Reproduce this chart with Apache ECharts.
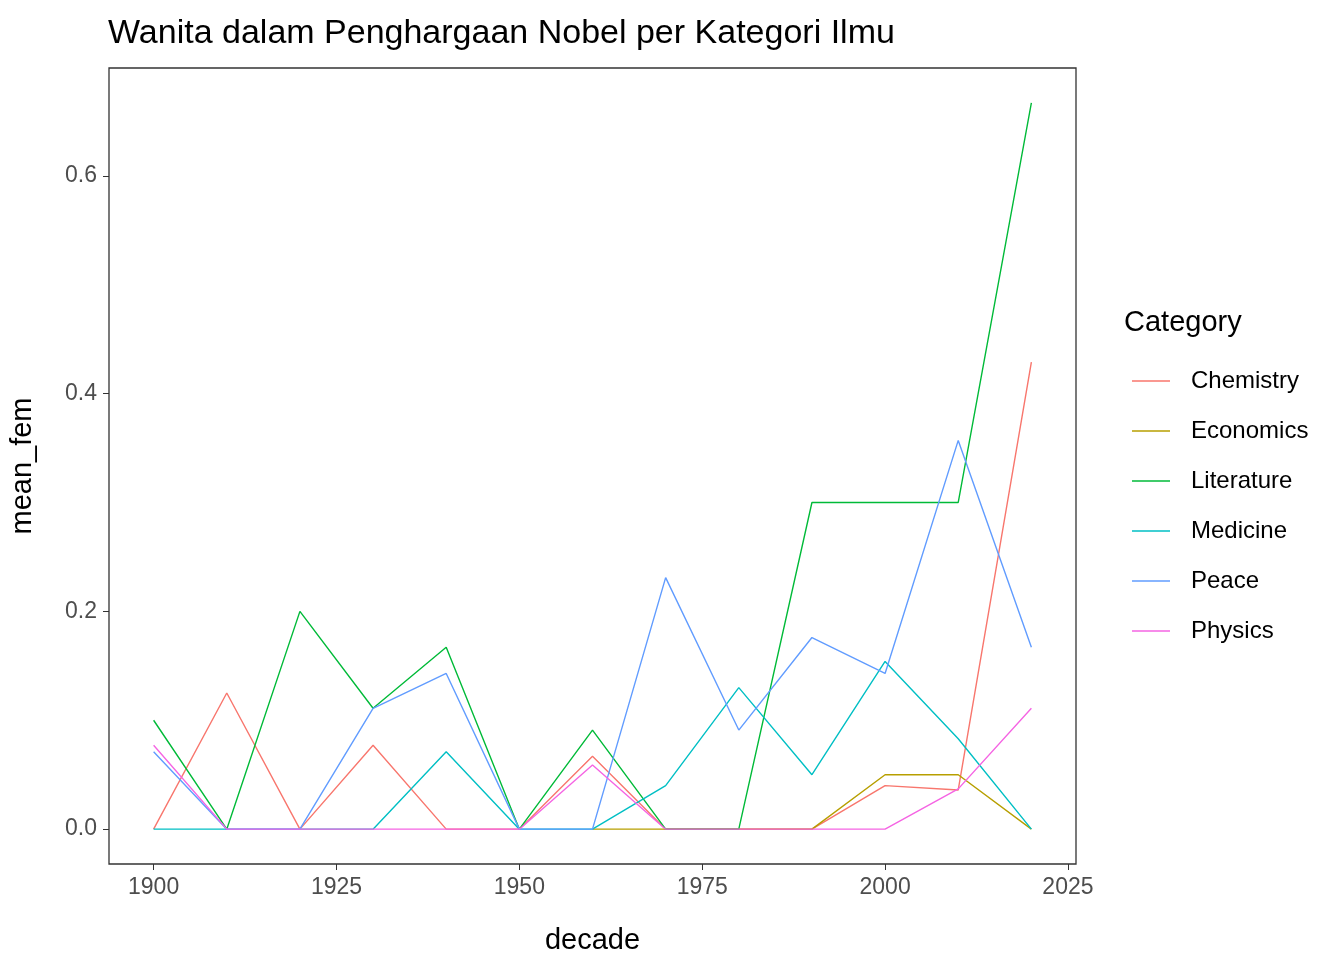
<!DOCTYPE html>
<html><head><meta charset="utf-8">
<script src="https://cdn.jsdelivr.net/npm/echarts@6/dist/echarts.min.js"></script>
<style>html,body{margin:0;padding:0;background:#fff}#c{width:1344px;height:960px}</style>
</head><body><div id="c"></div>
<script>
const decades = [1900,1910,1920,1930,1940,1950,1960,1970,1980,1990,2000,2010,2020];
const chemistry  = [0,0.125,0,0.077,0,0,0.067,0,0,0,0.04,0.036,0.429];
const economics  = [null,null,null,null,null,null,0,0,0,0,0.05,0.05,0];
const literature = [0.1,0,0.2,0.111,0.167,0,0.091,0,0,0.3,0.3,0.3,0.667];
const medicine   = [0,0,0,0,0.071,0,0,0.04,0.13,0.05,0.154,0.083,0];
const peace      = [0.071,0,0,0.111,0.143,0,0,0.231,0.091,0.176,0.143,0.357,0.167];
const physics    = [0.077,0,0,0,0,0,0.059,0,0,0,0,0.037,0.111];
const names = ['Chemistry','Economics','Literature','Medicine','Peace','Physics'];
const colors = ['#F8766D','#B79F00','#00BA38','#00BFC4','#619CFF','#F564E3'];
const vals = [chemistry,economics,literature,medicine,peace,physics];
const xTicks = [1900,1925,1950,1975,2000,2025];
const yTicks = [0,0.2,0.4,0.6];
const ch = echarts.init(document.getElementById('c'));
ch.setOption({
  animation:false,
  title:{text:'Wanita dalam Penghargaan Nobel per Kategori Ilmu',left:103,top:12,textStyle:{fontFamily:'Liberation Sans, Arial',fontWeight:'normal',fontSize:34,color:'#000'}},
  grid:{left:103,right:268,top:68,bottom:95,show:true,borderColor:'#333',borderWidth:1.3,backgroundColor:'#fff'},
  legend:{orient:'vertical',left:1127,top:364,itemGap:26,itemWidth:38,itemHeight:20,icon:'path://M0,10L38,10L38,11.5L0,11.5Z',
    textStyle:{fontFamily:'Liberation Sans, Arial',fontSize:24,color:'#000',padding:[0,0,0,16]},data:names},
  graphic:[{type:'text',left:1124,top:308,style:{text:'Category',font:'29px "Liberation Sans", Arial',fill:'#000'}}],
  xAxis:{type:'value',min:1893.9,max:2026.1,name:'decade',nameLocation:'middle',nameGap:62,
    nameTextStyle:{fontFamily:'Liberation Sans, Arial',fontSize:29,color:'#000'},
    axisLine:{show:false,onZero:false},splitLine:{show:false},
    axisTick:{show:true,length:6,customValues:xTicks,lineStyle:{color:'#333'}},
    axisLabel:{customValues:xTicks,formatter:v=>String(v),fontFamily:'Liberation Sans, Arial',fontSize:23,color:'#4D4D4D',margin:12}},
  yAxis:{type:'value',min:-0.032,max:0.699,name:'mean_fem',nameLocation:'middle',nameGap:72,
    nameTextStyle:{fontFamily:'Liberation Sans, Arial',fontSize:29,color:'#000'},
    axisLine:{show:false,onZero:false},splitLine:{show:false},
    axisTick:{show:true,length:6,customValues:yTicks,lineStyle:{color:'#333'}},
    axisLabel:{customValues:yTicks,formatter:v=>v.toFixed(1),fontFamily:'Liberation Sans, Arial',fontSize:23,color:'#4D4D4D',margin:12}},
  series:names.map((n,i)=>({name:n,type:'line',showSymbol:false,symbol:'none',color:colors[i],
    lineStyle:{width:1.4,color:colors[i]},
    data:decades.map((d,j)=>vals[i][j]==null?null:[d,vals[i][j]]).filter(p=>p)}))
});
</script></body></html>
